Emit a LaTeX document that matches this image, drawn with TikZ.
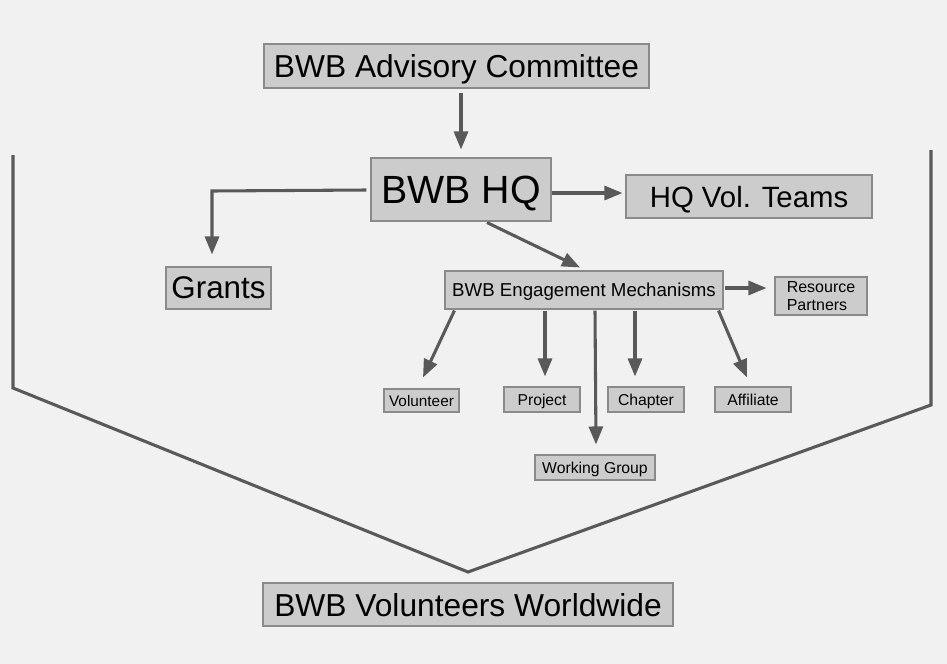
\documentclass[tikz,border=0pt]{standalone}
\usepackage{fontspec}
\setmainfont{Liberation Sans}
\usetikzlibrary{arrows.meta,calc}
\definecolor{bg}{RGB}{241,241,241}
\definecolor{boxfill}{RGB}{204,204,204}
\definecolor{boxline}{RGB}{138,138,138}
\definecolor{arrowc}{RGB}{89,89,89}
\tikzset{
  box/.style={draw=boxline, fill=boxfill, line width=0.8pt, inner sep=0pt, anchor=center, text=black, text depth=0pt},
  arr/.style={draw=arrowc, line width=2.3pt, -{Triangle[length=13.5pt,width=10.5pt]}},
  vline/.style={draw=arrowc, line width=2.3pt, line join=miter},
}
\begin{document}
\begin{tikzpicture}[x=0.75pt,y=-0.75pt]
\fill[bg] (0,0) rectangle (947,664);
\useasboundingbox (0,0) rectangle (947,664);

\node[box, minimum width=288.75pt, minimum height=33pt, font=\fontsize{23.8pt}{28pt}\selectfont] (adv) at (456.5,66) {BWB Advisory Committee};
\node[box, minimum width=135pt, minimum height=47.25pt, font=\fontsize{29.5pt}{34pt}\selectfont] (hq) at (461,189.5) {BWB HQ};
\node[box, minimum width=184.5pt, minimum height=32.25pt, font=\fontsize{22pt}{26pt}\selectfont] (hqv) at (749,196.5) {HQ Vol. Teams};
\node[box, minimum width=78.75pt, minimum height=31.5pt, font=\fontsize{23.5pt}{27pt}\selectfont] (grants) at (218.5,288) {Grants};
\node[box, minimum width=208.5pt, minimum height=28.5pt, font=\fontsize{14pt}{17pt}\selectfont] (em) at (584,290) {BWB Engagement Mechanisms};
\node[box, text depth=, minimum width=69pt, minimum height=28.5pt, font=\fontsize{12pt}{13.5pt}\selectfont, align=left] (rp) at (821,296) {Resource\\Partners};
\node[box, minimum width=56.25pt, minimum height=17.25pt, font=\fontsize{11.5pt}{13pt}\selectfont] (vol) at (421.5,400.5) {Volunteer};
\node[box, minimum width=57pt, minimum height=18.75pt, font=\fontsize{11.8pt}{13pt}\selectfont] (proj) at (542,399.5) {Project};
\node[box, minimum width=57pt, minimum height=18.75pt, font=\fontsize{11.8pt}{13pt}\selectfont] (chap) at (646,399.5) {Chapter};
\node[box, minimum width=57pt, minimum height=18.75pt, font=\fontsize{11.8pt}{13pt}\selectfont] (aff) at (753,399.5) {Affiliate};
\node[box, minimum width=90pt, minimum height=18.75pt, font=\fontsize{11.8pt}{13pt}\selectfont] (wg) at (595,467.5) {Working Group};
\node[box, minimum width=307.5pt, minimum height=32.25pt, font=\fontsize{23.8pt}{28pt}\selectfont] (ww) at (468,604.5) {BWB Volunteers Worldwide};

% big V
\coordinate (apex) at (468,572);
\draw[vline] (13,155) -- (13,388) -- (apex) -- (931,405) -- (931,150);

% connectors
\draw[arr] ($(adv.south -| hq.north)+(0,4)$) -- ($(hq.north)+(0,-8)$);
\draw[arr] ($(hq.east)+(0,3.5)$) -- ($(hqv.west)+(-3,-3.5)$);
\draw[arr] ($(hq.west)+(-4,0.5)$) -- (212,191) -- ($(grants.north)+(-6.5,-12)$);
\draw[arr] ($(hq.south)+(26,1)$) -- ($(em.north)+(-4,-3)$);
\draw[arr] ($(em.east)+(1,-2)$) -- ($(rp.west)+(-8,-8)$);
\draw[arr] ($(em.south west)+(10,1)$) -- ($(vol.north)+(1.5,-11)$);
\draw[arr] ($(em.south)+(-39,1)$) -- ($(proj.north)+(3,-10)$);
\draw[arr] ($(em.south)+(11,1)$) -- ($(wg.north)+(1,-10)$);
\draw[arr] ($(em.south)+(51,1)$) -- ($(chap.north)+(-11,-10)$);
\draw[arr] ($(em.south east)+(-5,1)$) -- ($(aff.north)+(-6,-9)$);
\end{tikzpicture}
\end{document}
